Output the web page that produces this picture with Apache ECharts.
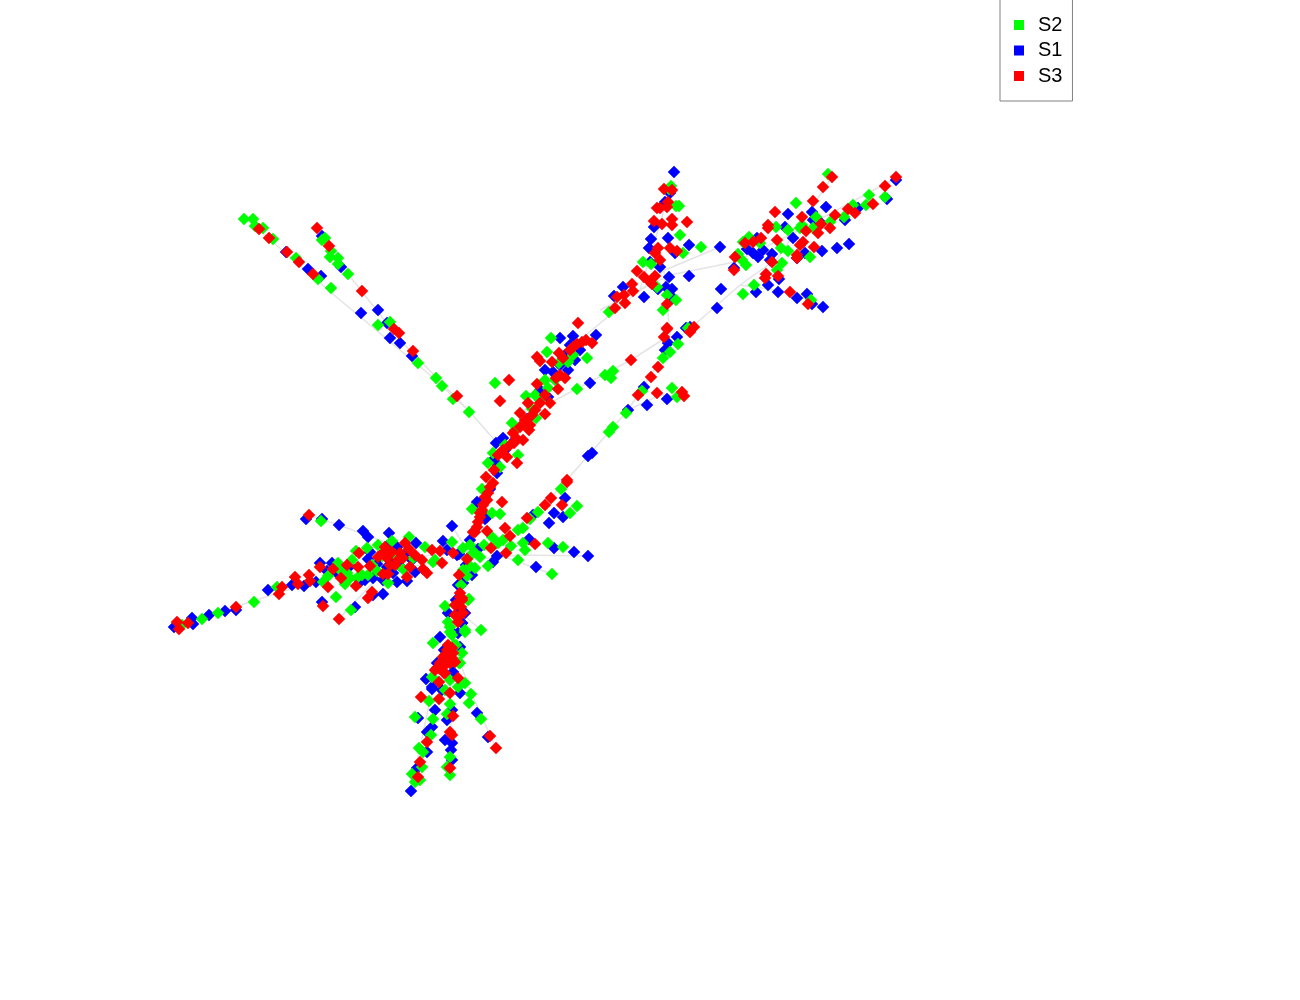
<!DOCTYPE html>
<html>
<head>
<meta charset="utf-8">
<style>html,body{margin:0;padding:0;background:#fff}#c{width:1300px;height:1000px}</style>
<script src="https://cdn.jsdelivr.net/npm/echarts@6/dist/echarts.min.js"></script>
</head>
<body>
<div id="c"></div>
<script>
const legendOrder = ['S2','S1','S3'];

const s1 = [[322,236],[286,252],[308,269],[321,276],[341,267],[361,313],[378,310],[387,323],[390,338],[400,343],[412,356],
[174,627],[192,618],[193,624],[209,615],[225,611],[236,610],[268,590],[292,585],[304,586],[316,582],[320,563],[332,563],[327,571],[338,574],[306,519],[322,519],[339,525],[363,531],[368,537],[389,533],[416,543],[443,541],[452,526],[322,602],[355,607],[383,594],[373,595],[387,546],[397,547],[406,553],[368,559],[377,564],[365,580],[373,578],[360,582],[397,582],[407,581],[415,572],[393,573],[387,567],[457,555],[447,550],[350,566],[345,570],[380,556],[400,566],[370,552],[392,560],[412,560],[383,580],
[459,554],[478,549],[497,556],[493,562],[529,539],[549,523],[554,513],[563,517],[565,498],[554,548],[574,552],[588,556],[536,567],[533,515],[465,577],[463,583],[458,607],[465,613],[462,623],[487,517],[470,540],[466,565],[472,575],
[440,637],[426,679],[432,689],[418,718],[435,710],[427,732],[432,727],[445,740],[452,743],[451,750],[452,760],[427,752],[417,768],[411,791],[477,713],[488,737],[453,672],[442,690],[460,693],[447,720],[452,710],[437,663],[460,647],[458,633],[458,585],[460,608],[462,623],[452,632],[432,687],[448,613],[456,600],[444,650],
[560,338],[573,336],[596,335],[545,370],[553,372],[568,370],[575,360],[590,383],[548,397],[527,419],[496,443],[503,438],[493,460],[497,473],[588,456],[592,453],[628,410],[647,405],[667,399],[644,387],[668,343],[677,337],[665,350],[690,327],[477,502],[490,489],[485,519],[495,462],[560,365],[570,345],[540,390],[515,440],[580,350],[565,355],[505,450],[483,500],
[674,172],[670,193],[665,202],[654,227],[651,239],[649,248],[668,238],[689,245],[675,253],[720,247],[660,267],[650,262],[669,277],[689,276],[623,287],[614,296],[644,297],[658,289],[666,287],[672,289],[673,298],[721,289],[717,308],[734,268],[756,292],[768,285],[778,292],[779,279],[797,298],[807,294],[823,307],[812,304],[822,251],[837,248],[849,244],[826,207],[812,212],[788,214],[785,227],[793,238],[813,220],[820,222],[845,220],[858,208],[887,199],[896,180],[747,249],[753,253],[763,250],[772,254],[770,260],[758,257],[805,253],[797,258],[757,238],[686,328]];

const s2 = [[244,219],[253,219],[255,226],[263,228],[273,239],[296,258],[318,279],[331,288],[378,325],[390,322],[418,363],[436,378],[442,386],[453,399],[469,412],[325,238],[322,240],[331,251],[330,257],[338,258],[338,264],[348,274],
[182,625],[202,619],[218,613],[254,602],[277,587],[323,582],[328,576],[338,563],[345,584],[336,597],[351,610],[321,521],[356,551],[367,548],[378,545],[392,541],[409,537],[425,547],[452,542],[352,560],[347,573],[362,575],[368,575],[377,571],[388,583],[403,569],[413,558],[433,562],[445,606],[357,578],[340,570],[372,565],[382,556],[395,555],[350,578],
[435,560],[463,548],[470,545],[463,570],[475,568],[480,557],[488,566],[503,540],[498,543],[518,530],[523,528],[530,519],[538,512],[561,489],[577,506],[570,513],[548,543],[563,547],[523,543],[525,550],[518,560],[552,574],[511,546],[461,585],[469,599],[481,630],[465,630],[450,627],[452,635],[472,509],[492,513],[500,514],[482,489],[468,558],[474,552],[470,566],[484,545],[492,537],[467,576],
[433,643],[432,677],[429,701],[433,719],[415,717],[419,748],[423,752],[431,735],[422,767],[412,774],[415,782],[420,780],[450,775],[447,767],[450,757],[465,683],[471,694],[469,703],[481,719],[458,687],[450,704],[447,714],[459,663],[456,645],[450,680],[462,653],[465,632],[468,600],[450,632],[454,645],[460,663],[448,622],[445,690],
[551,338],[547,352],[587,358],[559,363],[573,355],[495,383],[526,396],[577,389],[512,423],[532,409],[548,388],[536,418],[500,467],[488,463],[518,455],[605,375],[613,371],[611,378],[626,413],[613,427],[609,432],[642,391],[672,388],[677,397],[670,352],[663,358],[678,344],[493,453],[545,380],[555,380],[525,425],[515,430],[540,400],[505,445],[535,395],[568,362],
[671,186],[669,189],[676,206],[679,206],[680,235],[701,247],[683,253],[643,262],[651,264],[609,312],[657,287],[667,295],[663,310],[676,300],[828,174],[796,203],[869,195],[885,197],[866,205],[853,205],[844,217],[830,222],[816,217],[813,228],[802,225],[800,228],[788,230],[776,227],[749,237],[743,242],[760,243],[738,254],[746,265],[742,260],[781,248],[788,251],[810,257],[782,263],[777,270],[754,285],[743,294],[811,300],[688,328]];

const s3 = [[259,229],[269,238],[287,252],[299,262],[313,274],[317,228],[329,246],[362,291],[394,329],[399,333],[413,351],[457,396],
[177,622],[179,629],[188,623],[236,607],[279,594],[282,587],[295,577],[298,584],[309,575],[310,581],[328,587],[320,567],[333,569],[341,578],[356,586],[347,565],[358,567],[359,553],[370,566],[383,574],[388,574],[372,592],[368,598],[323,606],[339,619],[309,515],[405,543],[409,549],[383,553],[387,558],[398,560],[395,565],[407,577],[422,560],[423,569],[427,573],[432,550],[440,551],[442,563],[453,553],[410,567],[378,557],[392,552],[400,553],[403,558],[390,565],[385,547],[415,555],
[502,502],[487,531],[505,528],[510,536],[491,548],[506,553],[535,544],[545,505],[551,498],[562,505],[567,482],[467,559],[459,575],[475,532],[480,513],[460,597],[458,617],[462,600],[527,518],
[490,736],[496,748],[450,768],[450,732],[453,716],[452,735],[418,777],[420,762],[427,742],[421,697],[439,699],[450,693],[458,678],[439,682],[444,673],[437,668],[443,657],[448,645],[453,653],[450,663],[460,593],[462,598],[463,613],[455,615],[458,622],[452,658],[445,655],[443,667],[435,670],[445,673],[447,650],[452,648],[448,660],[455,662],[440,663],[455,605],[461,607],
[578,323],[537,357],[540,361],[559,353],[577,344],[586,340],[592,343],[509,380],[500,401],[537,384],[558,389],[560,375],[565,378],[550,403],[540,403],[528,403],[520,413],[545,414],[529,430],[520,427],[513,433],[523,440],[514,443],[498,455],[507,457],[517,463],[486,477],[493,483],[631,360],[657,393],[638,395],[651,377],[658,367],[664,337],[667,329],[682,392],[684,396],[567,480],[690,332],[482,510],[483,505],[480,517],[473,532],[477,527],[488,493],[485,497],[490,487],[478,522],[552,362],[570,350],[545,395],[532,415],[525,420],[535,410],[510,445],[503,450],[494,470],[487,500],[481,513],[556,378],[563,358],[573,347],[582,342],[530,425],[516,438],
[664,189],[672,190],[668,202],[657,208],[660,208],[667,207],[654,221],[662,224],[672,219],[672,225],[687,222],[658,248],[655,253],[670,248],[677,251],[660,260],[637,271],[644,277],[655,276],[632,284],[650,282],[652,284],[633,291],[617,297],[624,295],[625,303],[615,308],[667,304],[667,328],[694,327],[832,177],[823,187],[813,201],[885,186],[896,177],[873,204],[775,212],[802,217],[768,225],[768,228],[806,231],[818,233],[830,228],[821,224],[835,215],[848,209],[855,213],[777,240],[761,238],[753,242],[745,243],[735,257],[803,242],[800,245],[814,247],[797,255],[797,258],[772,262],[766,274],[765,278],[778,276],[790,292],[808,304],[734,270]];

const treeEdges = [
[[245,218],[340,300],[430,375],[470,412],[498,444]],
[[318,228],[345,270],[400,340],[470,412]],
[[411,791],[430,700],[450,640],[462,590],[470,550],[490,480],[530,400],[580,340],[640,290],[655,240],[670,190]],
[[452,770],[450,680],[458,610]],
[[496,748],[470,690],[452,640]],
[[600,310],[670,275],[735,262],[800,230],[896,178]],
[[470,558],[540,510],[588,456],[628,410],[670,345],[700,320],[740,285],[778,258],[832,177]],
[[740,285],[790,292],[823,307]],
[[550,403],[631,360],[670,335]],
[[628,410],[660,395],[684,396]],
[[470,552],[400,558],[350,570],[250,602],[177,625]],
[[440,560],[380,575],[339,619]],
[[420,555],[339,525],[309,515]],
[[470,560],[520,555],[588,556]],
[[480,548],[552,574]],
[[640,290],[665,270],[720,247]],
[[670,335],[663,260]],
[[470,555],[452,526]],
[[458,610],[481,630]]
];

const chart = echarts.init(document.getElementById('c'), null, {renderer:'canvas'});
const scatter = (name, color, data, z) => ({
  name, type:'scatter', data, symbol:'diamond', symbolSize:12.5,
  itemStyle:{color, opacity:1}, z, silent:true, animation:false, large:false
});
chart.setOption({
  animation:false,
  backgroundColor:'#ffffff',
  grid:{left:0,right:0,top:0,bottom:0,containLabel:false},
  xAxis:{type:'value',min:0,max:1300,show:false},
  yAxis:{type:'value',min:0,max:1000,inverse:true,show:false},
  legend:{
    data:legendOrder, orient:'vertical', left:1000, top:-1,
    padding:[16,10,15,14], itemWidth:10, itemHeight:10, itemGap:5.5,
    icon:'rect', selectedMode:false,
    borderColor:'#808080', borderWidth:1, borderRadius:0, backgroundColor:'#ffffff',
    textStyle:{fontFamily:'Liberation Sans',fontSize:20,color:'#000',lineHeight:20,padding:[0,0,0,9]}
  },
  series:[
    {type:'lines',coordinateSystem:'cartesian2d',polyline:true,silent:true,z:1,
     data:treeEdges.map(coords=>({coords})),
     lineStyle:{color:'#e4e4e4',width:1.5,opacity:1,curveness:0}},
    scatter('S1','#0000ff',s1,2),
    scatter('S2','#00ff00',s2,3),
    scatter('S3','#ff0000',s3,4)
  ]
});
</script>
</body>
</html>
